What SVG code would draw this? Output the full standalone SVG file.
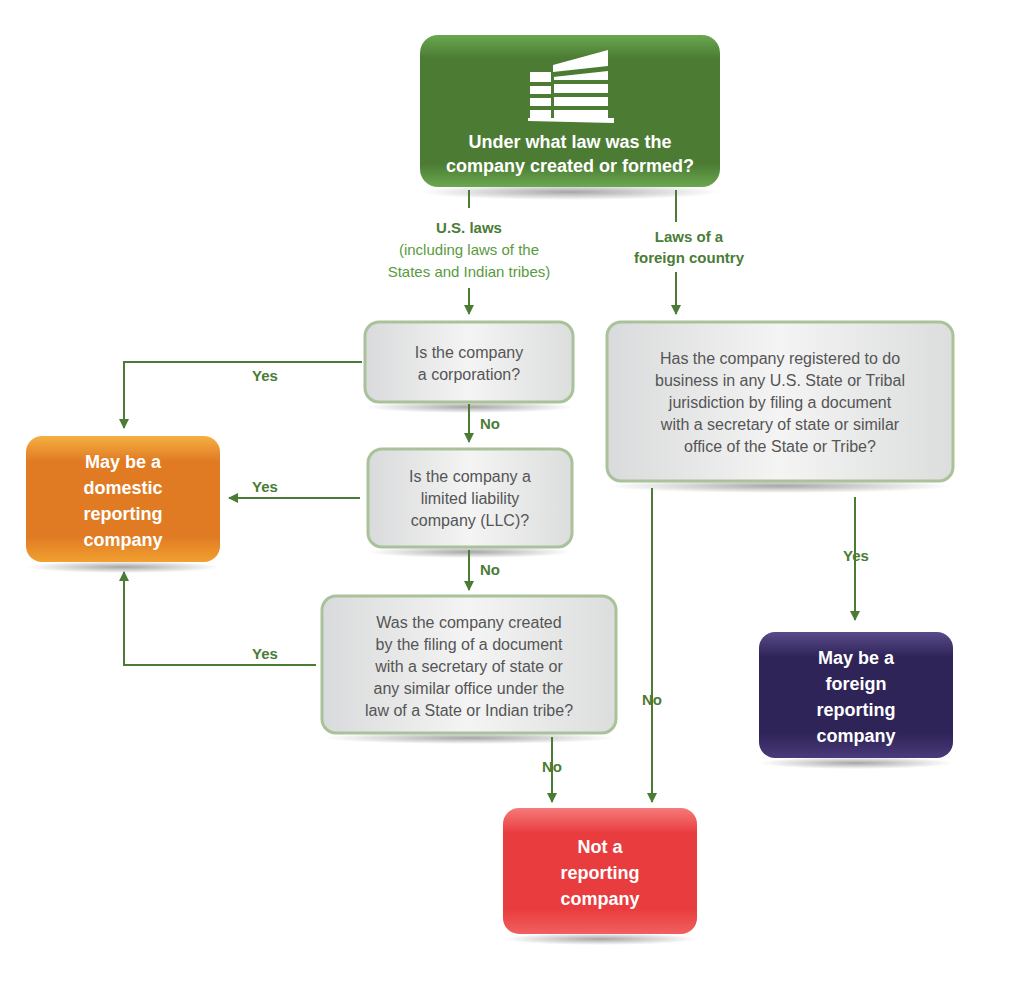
<svg xmlns="http://www.w3.org/2000/svg" width="1024" height="986" viewBox="0 0 1024 986">
<defs>
<linearGradient id="gq" x1="0" y1="0" x2="1" y2="0"><stop offset="0" stop-color="#d9dadb"/><stop offset="0.5" stop-color="#f4f4f4"/><stop offset="1" stop-color="#dcdddd"/></linearGradient>
<linearGradient id="gg" x1="0" y1="0" x2="0" y2="1"><stop offset="0" stop-color="#6aa84f"/><stop offset="0.15" stop-color="#4c7c34"/><stop offset="0.85" stop-color="#4c7c34"/><stop offset="1" stop-color="#6aa84f"/></linearGradient>
<linearGradient id="go" x1="0" y1="0" x2="0" y2="1"><stop offset="0" stop-color="#f5b041"/><stop offset="0.2" stop-color="#e07b24"/><stop offset="0.8" stop-color="#e07b24"/><stop offset="1" stop-color="#f0a030"/></linearGradient>
<linearGradient id="gp" x1="0" y1="0" x2="0" y2="1"><stop offset="0" stop-color="#5a4a8a"/><stop offset="0.2" stop-color="#2e2458"/><stop offset="0.8" stop-color="#2e2458"/><stop offset="1" stop-color="#4a3a7a"/></linearGradient>
<linearGradient id="gr" x1="0" y1="0" x2="0" y2="1"><stop offset="0" stop-color="#f57a7a"/><stop offset="0.2" stop-color="#e93c3e"/><stop offset="0.8" stop-color="#e93c3e"/><stop offset="1" stop-color="#f06060"/></linearGradient>
<radialGradient id="sh"><stop offset="0" stop-color="#000" stop-opacity="0.35"/><stop offset="1" stop-color="#000" stop-opacity="0"/></radialGradient>
<marker id="ar" viewBox="0 0 10 10" refX="9" refY="5" markerWidth="5" markerHeight="5" orient="auto"><path d="M0,0L10,5L0,10z" fill="#4a7c36"/></marker>
</defs>
<style>
.q{fill:url(#gq);stroke:#a9c29a;stroke-width:3}
.qt{font-family:"Liberation Sans",sans-serif;font-size:16px;fill:#555;text-anchor:middle}
.wt{font-family:"Liberation Sans",sans-serif;font-size:18px;font-weight:bold;fill:#fff;text-anchor:middle}
.lb{font-family:"Liberation Sans",sans-serif;font-size:15px;font-weight:bold;fill:#4a7c36;text-anchor:middle}
.ln{font-family:"Liberation Sans",sans-serif;font-size:15px;fill:#5a9a40;text-anchor:middle}
.c{fill:none;stroke:#4a7c36;stroke-width:2}
.s{fill:url(#sh)}
</style>
<g id="shadows">
<ellipse class="s" cx="570" cy="192" rx="150" ry="8"/>
<ellipse class="s" cx="469" cy="407" rx="104" ry="6"/>
<ellipse class="s" cx="470" cy="552" rx="102" ry="6"/>
<ellipse class="s" cx="469" cy="738" rx="147" ry="6"/>
<ellipse class="s" cx="780" cy="486" rx="173" ry="7"/>
<ellipse class="s" cx="123" cy="567" rx="97" ry="6"/>
<ellipse class="s" cx="856" cy="763" rx="97" ry="6"/>
<ellipse class="s" cx="600" cy="939" rx="97" ry="6"/>
</g>
<g id="connectors">
<path class="c" d="M469,190V208"/>
<path class="c" d="M469,288V314" marker-end="url(#ar)"/>
<path class="c" d="M676,190V222"/>
<path class="c" d="M676,272V314" marker-end="url(#ar)"/>
<path class="c" d="M362,362H124V428" marker-end="url(#ar)"/>
<path class="c" d="M469,404V442" marker-end="url(#ar)"/>
<path class="c" d="M360,498H229" marker-end="url(#ar)"/>
<path class="c" d="M469,550V590" marker-end="url(#ar)"/>
<path class="c" d="M316,665H124V572" marker-end="url(#ar)"/>
<path class="c" d="M552,737V802" marker-end="url(#ar)"/>
<path class="c" d="M652,488V802" marker-end="url(#ar)"/>
<path class="c" d="M855,497V620" marker-end="url(#ar)"/>
<text class="lb" x="469" y="233">U.S. laws</text>
<text class="ln" x="469" y="255">(including laws of the</text>
<text class="ln" x="469" y="277">States and Indian tribes)</text>
<text class="lb" x="689" y="242">Laws of a</text>
<text class="lb" x="689" y="263">foreign country</text>
<text class="lb" x="265" y="381">Yes</text>
<text class="lb" x="490" y="429">No</text>
<text class="lb" x="265" y="492">Yes</text>
<text class="lb" x="490" y="575">No</text>
<text class="lb" x="265" y="659">Yes</text>
<text class="lb" x="552" y="772">No</text>
<text class="lb" x="652" y="705">No</text>
<text class="lb" x="856" y="561">Yes</text>
</g>
<g id="start">
<rect x="420" y="35" width="300" height="152" rx="18" fill="url(#gg)"/>
<g fill="#fff">
<path d="M553,65L608,50V118H553z"/>
<path d="M530,72H553V118H530z"/>
<path d="M528,118H614V123L528,121z"/>
</g>
<g fill="#4c7c34">
<rect x="553" y="72" width="55" height="5" transform="skewY(-6) translate(0,58)"/>
<rect x="530" y="82" width="23" height="4"/><rect x="530" y="94" width="23" height="4"/><rect x="530" y="106" width="23" height="4"/>
<rect x="553" y="80" width="55" height="4"/><rect x="553" y="93" width="55" height="4"/><rect x="553" y="106" width="55" height="4"/>
<rect x="551" y="72" width="3" height="46"/>
</g>
<text class="wt" x="570" y="148">Under what law was the</text>
<text class="wt" x="570" y="172">company created or formed?</text>
</g>
<g id="q1"><rect class="q" x="365" y="322" width="208" height="80" rx="14"/>
<text class="qt" x="469" y="358">Is  the company</text><text class="qt" x="469" y="380">a corporation?</text></g>
<g id="q2"><rect class="q" x="368" y="449" width="204" height="98" rx="14"/>
<text class="qt" x="470" y="482">Is the company a</text><text class="qt" x="470" y="504">limited liability</text><text class="qt" x="470" y="526">company (LLC)?</text></g>
<g id="q3"><rect class="q" x="322" y="596" width="294" height="137" rx="14"/>
<text class="qt" x="469" y="628">Was the company created</text><text class="qt" x="469" y="650">by the filing of a document</text><text class="qt" x="469" y="672">with a secretary of state or</text><text class="qt" x="469" y="694">any similar office under the</text><text class="qt" x="469" y="716">law of a State or Indian tribe?</text></g>
<g id="qf"><rect class="q" x="607" y="322" width="346" height="159" rx="14"/>
<text class="qt" x="780" y="364">Has the company registered to do</text><text class="qt" x="780" y="386">business in any U.S. State or Tribal</text><text class="qt" x="780" y="408">jurisdiction by filing a document</text><text class="qt" x="780" y="430">with a secretary of state or similar</text><text class="qt" x="780" y="452">office of the State or Tribe?</text></g>
<g id="domestic"><rect x="26" y="436" width="194" height="126" rx="16" fill="url(#go)"/>
<text class="wt" x="123" y="468">May be a</text><text class="wt" x="123" y="494">domestic</text><text class="wt" x="123" y="520">reporting</text><text class="wt" x="123" y="546">company</text></g>
<g id="foreign"><rect x="759" y="632" width="194" height="126" rx="16" fill="url(#gp)"/>
<text class="wt" x="856" y="664">May be a</text><text class="wt" x="856" y="690">foreign</text><text class="wt" x="856" y="716">reporting</text><text class="wt" x="856" y="742">company</text></g>
<g id="notrep"><rect x="503" y="808" width="194" height="126" rx="16" fill="url(#gr)"/>
<text class="wt" x="600" y="853">Not a</text><text class="wt" x="600" y="879">reporting</text><text class="wt" x="600" y="905">company</text></g>
</svg>
